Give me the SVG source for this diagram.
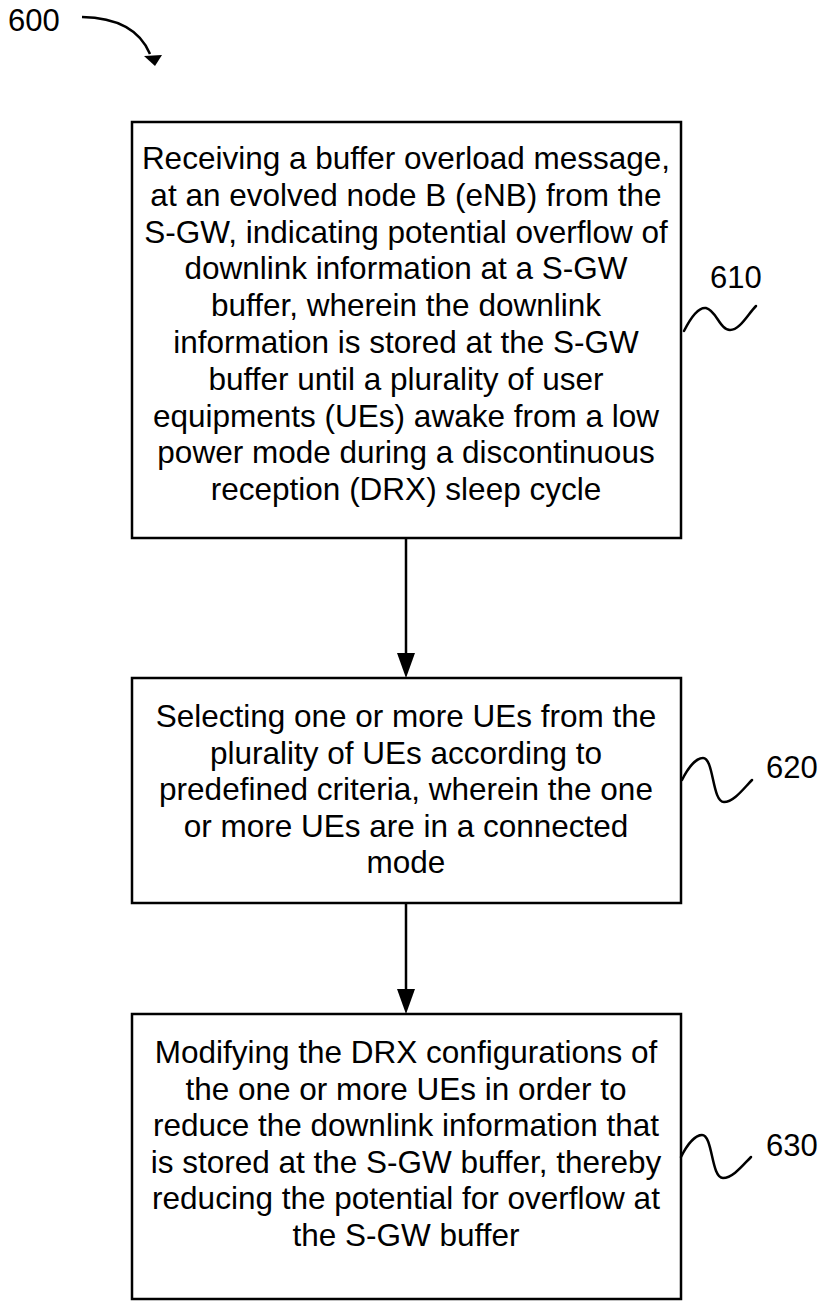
<svg xmlns="http://www.w3.org/2000/svg" width="823" height="1301" viewBox="0 0 823 1301">
<style>
.box{fill:#fff;stroke:#000;stroke-width:2.5}
.t{font-family:"Liberation Sans",Arial,sans-serif;font-size:31.5px;fill:#000;text-anchor:middle}
.l{font-family:"Liberation Sans",Arial,sans-serif;font-size:31px;fill:#000}
.c{fill:none;stroke:#000;stroke-width:2.5}
.s{fill:none;stroke:#000;stroke-width:2.5;stroke-linecap:round}
.h{fill:#000}
</style>
<text class="l" x="8" y="31">600</text>
<g id="ref-arrow">
<path class="c" d="M82,17 Q135,18 150,54"/>
<polygon class="h" points="144,56 162,55 155,66"/>
</g>
<g id="connectors">
<line class="c" x1="406" y1="538" x2="406" y2="660"/>
<polygon class="h" points="397,653 415,653 406,678"/>
<line class="c" x1="406" y1="903" x2="406" y2="996"/>
<polygon class="h" points="397,989 415,989 406,1014"/>
</g>
<g id="n610">
<rect class="box" x="132" y="122" width="549" height="416"/>
<text class="t" x="406" y="169">Receiving a buffer overload message,</text>
<text class="t" x="406" y="205.8">at an evolved node B (eNB) from the</text>
<text class="t" x="406" y="242.6">S-GW, indicating potential overflow of</text>
<text class="t" x="406" y="279.4">downlink information at a S-GW</text>
<text class="t" x="406" y="316.2">buffer, wherein the downlink</text>
<text class="t" x="406" y="353">information is stored at the S-GW</text>
<text class="t" x="406" y="389.8">buffer until a plurality of user</text>
<text class="t" x="406" y="426.6">equipments (UEs) awake from a low</text>
<text class="t" x="406" y="463.4">power mode during a discontinuous</text>
<text class="t" x="406" y="500.2">reception (DRX) sleep cycle</text>
<path class="s" d="M684,331 C692,315 699,307 706,308 C716,310 720,330 730,330 C740,330 748,314 756,306"/>
<text class="l" x="710" y="288">610</text>
</g>
<g id="n620">
<rect class="box" x="132" y="678" width="549" height="225"/>
<text class="t" x="406" y="727">Selecting one or more UEs from the</text>
<text class="t" x="406" y="763.6">plurality of UEs according to</text>
<text class="t" x="406" y="800.2">predefined criteria, wherein the one</text>
<text class="t" x="406" y="836.8">or more UEs are in a connected</text>
<text class="t" x="406" y="873.4">mode</text>
<path class="s" d="M682,780 C688,768 696,758 703,758 C714,758 712,802 724,802 C734,802 744,788 752,780"/>
<text class="l" x="766" y="778">620</text>
</g>
<g id="n630">
<rect class="box" x="132" y="1014" width="549" height="285"/>
<text class="t" x="406" y="1063">Modifying the DRX configurations of</text>
<text class="t" x="406" y="1099.6">the one or more UEs in order to</text>
<text class="t" x="406" y="1136.2">reduce the downlink information that</text>
<text class="t" x="406" y="1172.8">is stored at the S-GW buffer, thereby</text>
<text class="t" x="406" y="1209.4">reducing the potential for overflow at</text>
<text class="t" x="406" y="1246">the S-GW buffer</text>
<path class="s" d="M681,1157 C687,1145 695,1135 702,1135 C713,1135 711,1178 723,1178 C733,1178 743,1165 751,1157"/>
<text class="l" x="766" y="1156">630</text>
</g>
</svg>
